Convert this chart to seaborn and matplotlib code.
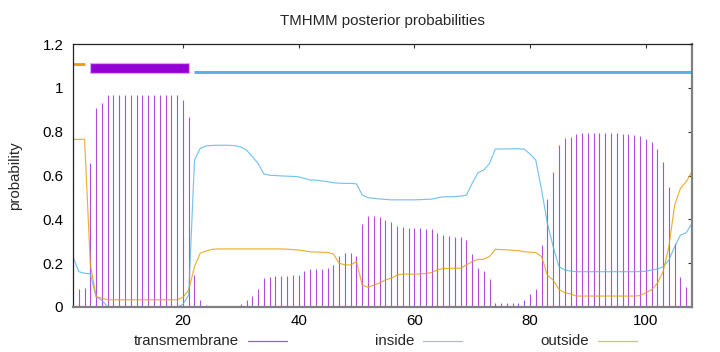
import numpy as np
import pandas as pd
import matplotlib
matplotlib.use("Agg")
import matplotlib.pyplot as plt
from matplotlib.lines import Line2D
from matplotlib.patches import Rectangle
import seaborn as sns

# ---------------- data ----------------
positions = list(range(1, 109))

transmembrane = [
    0.0, 0.08, 0.085, 0.655, 0.906, 0.93,
    0.967, 0.967, 0.967, 0.967, 0.967, 0.967, 0.967, 0.967, 0.967, 0.967, 0.967, 0.967, 0.967,
    0.944, 0.868, 0.146, 0.03, 0.01,
    0.0, 0.0, 0.0, 0.0, 0.0,
    0.014, 0.03, 0.05, 0.08, 0.132, 0.138, 0.141, 0.141, 0.143, 0.146,
    0.148, 0.163, 0.172, 0.173, 0.173, 0.178, 0.19, 0.234, 0.245, 0.245,
    0.233, 0.379, 0.415, 0.417, 0.409, 0.397, 0.388, 0.37, 0.363, 0.362,
    0.36, 0.359, 0.356, 0.356, 0.339, 0.327, 0.322, 0.319, 0.318, 0.306,
    0.242, 0.179, 0.164, 0.128, 0.017, 0.017, 0.02, 0.02, 0.02, 0.032,
    0.059, 0.082, 0.283, 0.493, 0.616, 0.739, 0.769, 0.777, 0.789, 0.792,
    0.794, 0.794, 0.794, 0.794, 0.794, 0.794, 0.789, 0.789, 0.785, 0.78,
    0.765, 0.753, 0.719, 0.66, 0.549, 0.29, 0.138, 0.093, 0.0,
]

inside = [
    0.23, 0.161, 0.154, 0.151, 0.047, 0.03,
    0.0, 0.0, 0.0, 0.0, 0.0, 0.0, 0.0, 0.0, 0.0, 0.0, 0.0, 0.0, 0.0,
    0.012, 0.054, 0.67, 0.724, 0.735,
    0.737, 0.738, 0.738, 0.738, 0.736,
    0.73, 0.716, 0.686, 0.655, 0.607, 0.601, 0.6, 0.598, 0.597, 0.596,
    0.594, 0.587, 0.579, 0.579, 0.575, 0.572, 0.567, 0.565, 0.564, 0.564,
    0.562, 0.511, 0.499, 0.496, 0.493, 0.491, 0.489, 0.489, 0.489, 0.489,
    0.489, 0.49, 0.491, 0.492, 0.498, 0.503, 0.503, 0.504, 0.506, 0.51,
    0.564, 0.613, 0.625, 0.655, 0.721, 0.721, 0.721, 0.722, 0.722, 0.72,
    0.698, 0.67, 0.534, 0.382, 0.275, 0.184, 0.169, 0.164, 0.161, 0.161,
    0.161, 0.161, 0.161, 0.161, 0.161, 0.161, 0.161, 0.161, 0.161, 0.162,
    0.163, 0.169, 0.173, 0.184, 0.214, 0.275, 0.328, 0.339, 0.382,
]

outside = [
    0.765, 0.765, 0.765, 0.194, 0.047, 0.04,
    0.033, 0.033, 0.033, 0.033, 0.033, 0.033, 0.033, 0.033, 0.033, 0.033, 0.033, 0.033, 0.033,
    0.044, 0.078, 0.184, 0.246, 0.255,
    0.263, 0.265, 0.265, 0.265, 0.265,
    0.265, 0.265, 0.265, 0.265, 0.265, 0.265, 0.265, 0.265, 0.264, 0.262,
    0.26, 0.256, 0.252, 0.251, 0.25, 0.249, 0.242, 0.2, 0.192, 0.192,
    0.207, 0.1, 0.09, 0.1, 0.11, 0.124, 0.131, 0.146, 0.15, 0.15,
    0.15, 0.151, 0.153, 0.157, 0.169, 0.176, 0.176, 0.177, 0.177, 0.192,
    0.207, 0.217, 0.218, 0.23, 0.263, 0.262, 0.261, 0.259, 0.257, 0.252,
    0.25, 0.248, 0.23, 0.145, 0.123, 0.081, 0.065, 0.06, 0.05, 0.05,
    0.05, 0.05, 0.05, 0.05, 0.05, 0.05, 0.05, 0.05, 0.05, 0.052,
    0.065, 0.078, 0.108, 0.161, 0.275, 0.465, 0.541, 0.572, 0.617,
]

# predicted topology segments (start, end)
outside_segments = [(1, 3)]
tm_segments = [(4, 21)]
inside_segments = [(22, 108)]

x_ticks = [20, 40, 60, 80, 100]
y_ticks = [0, 0.2, 0.4, 0.6, 0.8, 1, 1.2]
y_ticklabels = ["0", "0.2", "0.4", "0.6", "0.8", "1", "1.2"]

title = "TMHMM posterior probabilities"
series_names = ["transmembrane", "inside", "outside"]

# ---------------- style ----------------
PURPLE = "#9400D3"
BLUE = "#56B4E9"
ORANGE = "#E69F00"
FS = 10.8

sns.set_theme(style="white")
plt.rcParams["font.family"] = ["Liberation Sans", "DejaVu Sans"]
plt.rcParams["font.size"] = FS

df = pd.DataFrame({"pos": positions, "tm": transmembrane,
                   "inside": inside, "outside": outside})

W, H = 720, 352
fig = plt.figure(figsize=(W / 100, H / 100), dpi=100)
L, R, T, B = 73, 692, 44, 307
ax = fig.add_axes([L / W, 1 - B / H, (R - L) / W, (B - T) / H])

# impulses for transmembrane probability
ax.vlines(df["pos"], 0, df["tm"], color="#b04ee0", linewidth=0.8, zorder=2)

sns.lineplot(data=df, x="pos", y="inside", ax=ax, color=BLUE, linewidth=0.85,
             alpha=0.8, zorder=3, legend=False)
sns.lineplot(data=df, x="pos", y="outside", ax=ax, color=ORANGE, linewidth=0.85,
             alpha=0.8, zorder=3, legend=False)

# topology bars on top
for s, e in outside_segments:
    ax.plot([s, e], [1.11, 1.11], color=ORANGE, linewidth=2.0, solid_capstyle="butt", zorder=4)
for s, e in inside_segments:
    ax.plot([s, e], [1.072, 1.072], color=BLUE, linewidth=2.2, solid_capstyle="butt", zorder=4)
for s, e in tm_segments:
    ax.add_patch(Rectangle((s, 1.068), e - s, 0.047, facecolor=PURPLE,
                           edgecolor="#dcaaf0", linewidth=0.9, zorder=4))

ax.set_xlim(1, 108)
ax.set_ylim(0, 1.2)
ax.set_xticks(x_ticks)
ax.set_xticklabels([str(v) for v in x_ticks])
ax.set_yticks(y_ticks)
ax.set_yticklabels(y_ticklabels)
ax.set_xlabel("")
ax.set_ylabel("")
ax.tick_params(axis="both", direction="in", length=3, width=0.8, color="#333333",
               labelsize=FS, labelcolor="black", top=True, right=True)
ax.tick_params(axis="y", pad=7)
ax.tick_params(axis="x", pad=5)

for side in ["left", "top"]:
    ax.spines[side].set_color("#222222")
    ax.spines[side].set_linewidth(0.9)
for side in ["right", "bottom"]:
    ax.spines[side].set_color("#808080")
    ax.spines[side].set_linewidth(1.6)
for sp in ax.spines.values():
    sp.set_visible(True)
    sp.set_zorder(5)

fig.text(382.5 / W, 1 - 21 / H, title, ha="center", va="center", fontsize=FS)
fig.text(15 / W, 1 - 176 / H, "probability", ha="center", va="center",
         rotation=90, fontsize=FS)

# gnuplot-like key along the bottom
key_y = 1 - 341 / H
key_items = [(239, PURPLE), (414, BLUE), (589, ORANGE)]
for (xr, col), name in zip(key_items, series_names):
    fig.text(xr / W, key_y, name, ha="right", va="center", fontsize=FS)
    fig.add_artist(Line2D([(xr + 9) / W, (xr + 48) / W], [key_y, key_y],
                          color=col, linewidth=0.9, alpha=0.7,
                          transform=fig.transFigure))

fig.savefig("out.png", dpi=100)
